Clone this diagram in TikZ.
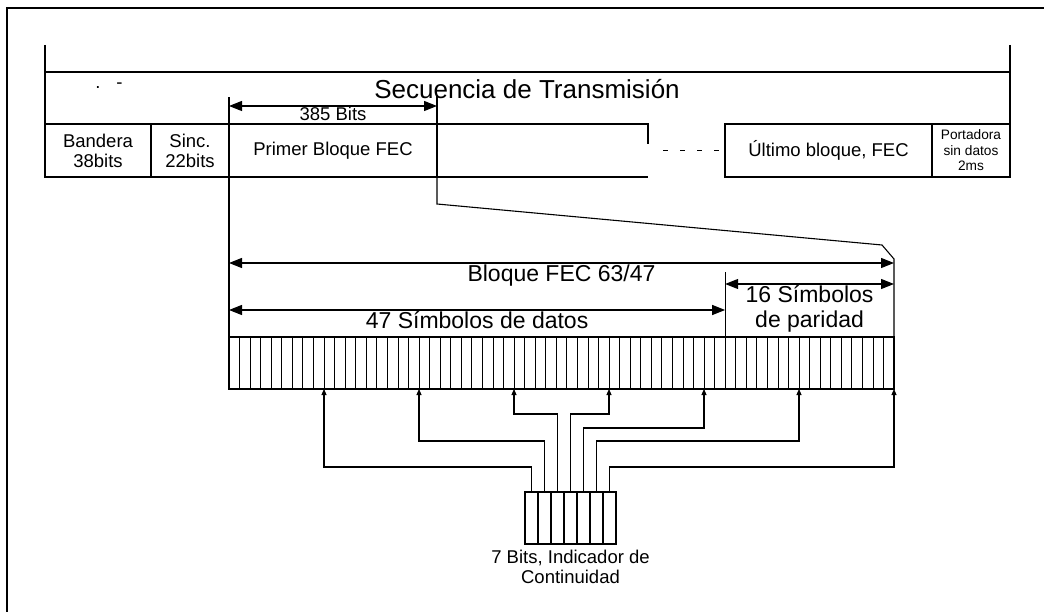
\documentclass[tikz,border=0pt]{standalone}
\usepackage{fontspec}
\setmainfont{Liberation Sans}
\usetikzlibrary{positioning, arrows.meta}

\newcommand{\fsz}[2]{\fontsize{#1}{#2}\selectfont}

\tikzset{
  field/.style={
    draw,
    anchor=north west,
    minimum height=53pt,
    inner sep=0pt,
    outer sep=0pt,
    align=center,
    font=\fsz{18.5}{20},
  },
  cell/.style={draw, minimum width=13pt, minimum height=52pt, inner sep=0pt, outer sep=0pt},
  dim/.style={{Triangle[length=13pt, width=10pt]}-{Triangle[length=13pt, width=10pt]}},
  tap/.style={-{Triangle[length=6pt, width=5pt]}},
  dimlbl/.style={font=\fsz{23}{25}, inner sep=1pt},
}

\begin{document}
\begin{tikzpicture}[x=1pt, y=-1pt, line width=1.1pt]

\useasboundingbox (0,0) rectangle (1044,612);

% Outer frame
\draw[line width=1.5pt] (7,612) -- (7,8) -- (1044,8);

% Header
\node[anchor=north west, minimum width=965pt, minimum height=52pt, inner sep=0pt, outer sep=0pt] (seq) at (45,72) {};
\node[font=\fsz{26}{28}] (seqlbl) at (527,89) {Secuencia de Transmisión};
\node[font=\fsz{18.5}{20}] (dots) at (109,86) {.\hspace{16pt}-};
\draw (seq.north west) ++(0,-27) -- (seq.south west);
\draw (seq.north west) -- (seq.north east);
\draw (seq.north east) ++(0,-27) -- (seq.south east);

% Frame fields
\node[field, minimum width=106pt] (band) at (45,124) {Bandera\\38bits};
\node[field, minimum width=78pt, right=0pt of band] (sinc) {Sinc.\\22bits};
\node[field, minimum width=208pt, right=0pt of sinc] (prim) {Primer Bloque FEC};
\node[field, minimum width=211pt, right=0pt of prim, draw=none] (emp) {};
\node[field, minimum width=207pt, right=77pt of emp] (ult) {Último bloque, FEC};
\node[field, minimum width=78pt, right=0pt of ult, font=\fsz{13.7}{15.5}] (port) {Portadora\\sin datos\\2ms};

\draw (emp.north west) -- (emp.north east) -- ++(0,20);
\draw (emp.south west) -- (emp.south east);
\draw[dash pattern=on 5pt off 12pt, shorten <=15pt] (emp.east) -- (ult.west);

% 385 bits
\draw (prim.north west) -- ++(0,-27);
\draw (prim.north east) -- ++(0,-29);
\draw[dim] ([yshift=18pt]prim.north west) -- ([yshift=18pt]prim.north east)
  node[midway, below, font=\fsz{18.5}{20}, inner sep=1pt] (bits385) {385 Bits};

% FEC block, 63 symbols
\node[draw, anchor=north west, minimum width=665pt, minimum height=52pt, inner sep=0pt, outer sep=0pt] (strip) at (229,337) {};
\foreach \i in {1,...,62}
  \draw[line width=0.8pt] ([xshift=\i*10.556pt]strip.north west) -- ([xshift=\i*10.556pt]strip.south west);

% zoom lines
\coordinate (k1) at ([yshift=78pt]strip.north east);
\coordinate (k2) at ([xshift=-12pt, yshift=92pt]strip.north east);
\draw (prim.south west) -- (strip.north west);
\draw (prim.south east) -- ++(0,27) -- (k2) -- (k1) -- (strip.north east);

% dimensions
\coordinate (div) at ([xshift=47*10.556pt]strip.north west);
\draw (div) -- ([yshift=65pt]div);
\draw[dim] ([yshift=74pt]strip.north west) -- ([yshift=74pt]strip.north east)
  node[midway, below, dimlbl] (fec) {Bloque FEC 63/47};
\draw[dim] ([yshift=27pt]strip.north west) -- ([yshift=27pt]div)
  node[midway, below, dimlbl] (dat) {47 Símbolos de datos};
\draw[dim] ([yshift=53pt]div) -- ([yshift=53pt]strip.north east)
  node[midway, below, dimlbl, align=center] (par) {16 Símbolos\\de paridad};

% continuity bits
\node[cell, anchor=north west] (c1) at (525,492) {};
\foreach \k [remember=\k as \p (initially 1)] in {2,...,7}
  \node[cell, right=0pt of c\p] (c\k) {};
\node[below=2pt of c4, align=center, font=\fsz{18.5}{20}] (bitslbl) {7 Bits, Indicador de\\Continuidad};

\foreach \k in {1,...,7}
  \coordinate (t\k) at ([xshift=\k*95pt]strip.south west);
\foreach \k/\d in {1/25, 2/51, 3/78, 4/78, 5/64, 6/51, 7/25}
  {\draw[tap] (c\k.north) -- ++(0,-\d) -| (t\k);}

\end{tikzpicture}
\end{document}
